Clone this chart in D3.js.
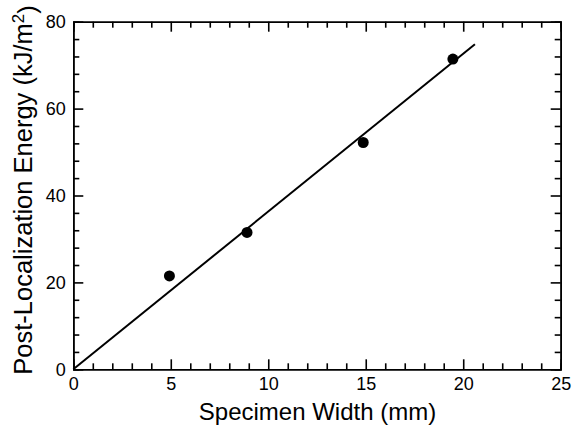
<!DOCTYPE html>
<html lang="en">
<head>
<meta charset="utf-8">
<title>Post-Localization Energy</title>
<script src="https://cdn.jsdelivr.net/npm/d3@7"></script>
<style>
body { margin: 0; background: #fff; }
svg { font-family: "Liberation Sans", Arial, Helvetica, sans-serif; }
.axis path, .axis line { fill: none; stroke: #000; stroke-width: 1.6; }
.axis text { font-size: 18px; fill: #000; }
.title { font-size: 24px; fill: #000; }
</style>
</head>
<body>
<script>
// data
var widths = [4.93, 8.91, 14.87, 19.47];
var energies = [21.5, 31.5, 52.2, 71.4];
var fitX = [0, 20.6];
var fitY = [0, 74.8];
var xMajor = [0, 5, 10, 15, 20, 25];
var yMajor = [0, 20, 40, 60, 80];

var w = 573, h = 425;
var pLeft = 73.3, pRight = 560.7, pTop = 21.7, pBottom = 369.3;

var x = d3.scaleLinear().domain([0, 25]).range([pLeft, pRight]);
var y = d3.scaleLinear().domain([0, 80]).range([pBottom, pTop]);

var svg = d3.select("body").append("svg")
  .attr("width", w)
  .attr("height", h);

var xMinor = d3.range(0, 26, 1).filter(function(d) { return d % 5 != 0; });
var yMinor = d3.range(0, 81, 4).filter(function(d) { return d % 20 != 0; });

// minor ticks, all four sides
svg.append("g").attr("class", "axis")
  .attr("transform", "translate(0," + pBottom + ")")
  .call(d3.axisBottom(x).tickValues(xMinor).tickSize(-6).tickFormat(""));
svg.append("g").attr("class", "axis")
  .attr("transform", "translate(0," + pTop + ")")
  .call(d3.axisTop(x).tickValues(xMinor).tickSize(-6).tickFormat(""));
svg.append("g").attr("class", "axis")
  .attr("transform", "translate(" + pLeft + ",0)")
  .call(d3.axisLeft(y).tickValues(yMinor).tickSize(-6).tickFormat(""));
svg.append("g").attr("class", "axis")
  .attr("transform", "translate(" + pRight + ",0)")
  .call(d3.axisRight(y).tickValues(yMinor).tickSize(-6).tickFormat(""));

// major ticks
svg.append("g").attr("class", "axis")
  .attr("transform", "translate(0," + pBottom + ")")
  .call(d3.axisBottom(x).tickValues(xMajor).tickSize(-10).tickPadding(8).tickSizeOuter(0));
svg.append("g").attr("class", "axis")
  .attr("transform", "translate(0," + pTop + ")")
  .call(d3.axisTop(x).tickValues(xMajor).tickSize(-10).tickFormat("").tickSizeOuter(0));
svg.append("g").attr("class", "axis")
  .attr("transform", "translate(" + pLeft + ",0)")
  .call(d3.axisLeft(y).tickValues(yMajor).tickSize(-10).tickPadding(7.5).tickSizeOuter(0));
svg.append("g").attr("class", "axis")
  .attr("transform", "translate(" + pRight + ",0)")
  .call(d3.axisRight(y).tickValues(yMajor).tickSize(-10).tickFormat("").tickSizeOuter(0));

// fitted line
var fit = fitX.map(function(d, i) { return [d, fitY[i]]; });
svg.append("path")
  .datum(fit)
  .attr("fill", "none")
  .attr("stroke", "#000")
  .attr("stroke-width", 2)
  .attr("d", d3.line().x(function(d) { return x(d[0]); }).y(function(d) { return y(d[1]); }));

// measured points
svg.selectAll(".pt")
  .data(widths)
  .enter().append("circle")
  .attr("class", "pt")
  .attr("cx", function(d) { return x(d); })
  .attr("cy", function(d, i) { return y(energies[i]); })
  .attr("r", 5.5)
  .attr("fill", "#000");

// axis titles
svg.append("text")
  .attr("class", "title")
  .attr("x", (pLeft + pRight) / 2 + 0.5)
  .attr("y", 420)
  .attr("text-anchor", "middle")
  .text("Specimen Width (mm)");

var yt = svg.append("text")
  .attr("class", "title")
  .style("font-size", "25.5px")
  .attr("transform", "translate(32,190) rotate(-90)")
  .attr("text-anchor", "middle");
yt.append("tspan").text("Post-Localization Energy (kJ/m");
yt.append("tspan").attr("dy", "-0.45em").style("font-size", "17px").text("2");
yt.append("tspan").attr("dy", "0.45em").text(")");
</script>
</body>
</html>
